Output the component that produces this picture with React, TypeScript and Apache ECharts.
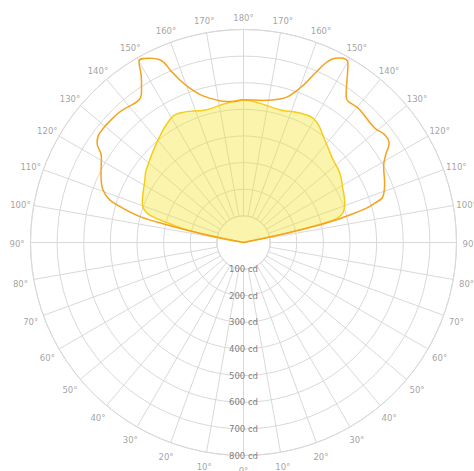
import { useEffect, useRef } from 'react';
import * as echarts from 'echarts';

// Angles in degrees: 0 = straight down, 90 = right horizontal, 180 = up, 270 = left horizontal

// Orange outline plane: angle (deg) and luminous intensity (cd)
const PLANE_A_ANGLES = [
  90, 103, 105.3, 106.7, 108.3, 112.8, 118.5, 121.7, 124.3, 127.3, 131.1, 138.8, 145, 149.8,
  152.5, 154.3, 156.8, 159.9, 165.7, 172, 180, 184.3, 193.2, 199.2, 202.6, 204.6, 207, 210,
  212.1, 214.3, 225, 232.7, 235.8, 238.8, 244.7, 249.4, 254.1, 257, 270,
];
const PLANE_A_CD = [
  0, 300, 464, 515, 552, 575, 599, 628, 662, 667, 654, 663, 672, 780,
  781, 764, 699, 618, 556, 539, 536, 531, 557, 614, 689, 755, 777, 785,
  721, 680, 677, 679, 665, 624, 592, 564, 472, 300, 0,
];

// Yellow filled plane: angle (deg) and luminous intensity (cd)
const PLANE_B_ANGLES = [
  90, 103.5, 106.5, 111.3, 119.5, 125.8, 132.7, 141.7, 149.9, 156.5, 164.7, 173.4, 180,
  187, 195.6, 206.2, 211, 221.2, 233.2, 237.6, 248.7, 256, 270,
];
const PLANE_B_CD = [
  0, 300, 389, 408, 427, 446, 458, 492, 533, 530, 517, 527, 535,
  527, 518, 542, 538, 496, 456, 439, 408, 274, 0,
];

const INTENSITY_TICKS = [100, 200, 300, 400, 500, 600, 700, 800];
const ANGLE_TICKS = [
  0, 10, 20, 30, 40, 50, 60, 70, 80, 90, 100, 110, 120, 130, 140, 150, 160, 170,
  180, 190, 200, 210, 220, 230, 240, 250, 260, 270, 280, 290, 300, 310, 320, 330, 340, 350,
];

const GRID = '#d9d9d9';
const FONT = "'DejaVu Sans', sans-serif";

const angleText = (v: number) => `${v <= 180 ? v : 360 - v}°`;

export default function App() {
  const ref = useRef<HTMLDivElement>(null);

  useEffect(() => {
    const chart = echarts.init(ref.current!, null, { renderer: 'svg' });
    const R = 213;
    const center = [243.5, 242.5];
    const tMin = INTENSITY_TICKS[0];
    const tMax = INTENSITY_TICKS[INTENSITY_TICKS.length - 1];
    const tStep = INTENSITY_TICKS[1] - INTENSITY_TICKS[0];
    const aStep = ANGLE_TICKS[1] - ANGLE_TICKS[0];
    const r0 = (R * tMin) / tMax;

    const hiddenAngle = (polarIndex: number) => ({
      polarIndex,
      type: 'value',
      min: 0,
      max: 360,
      startAngle: 270,
      clockwise: false,
      show: false,
    });

    chart.setOption({
      animation: false,
      polar: [
        { center, radius: [r0, R] },
        { center, radius: [0, R] },
        { center: [243.5, 244.3], radius: [0, 226.5] },
      ],
      angleAxis: [
        {
          polarIndex: 0,
          type: 'value',
          min: 0,
          max: 360,
          interval: aStep,
          startAngle: 270,
          clockwise: false,
          axisLine: { lineStyle: { color: GRID, width: 1 } },
          axisTick: { show: false },
          axisLabel: { show: false },
          splitLine: { show: true, lineStyle: { color: GRID, width: 1 } },
        },
        hiddenAngle(1),
        hiddenAngle(2),
      ],
      radiusAxis: [
        {
          polarIndex: 0,
          type: 'value',
          min: tMin,
          max: tMax,
          interval: tStep,
          axisLine: { show: false },
          axisTick: { show: false },
          splitLine: { show: true, lineStyle: { color: GRID, width: 1 } },
          axisLabel: {
            margin: 0,
            align: 'center',
            verticalAlign: 'middle',
            padding: [0, 0, 9, 0],
            color: '#808080',
            fontSize: 8.5,
            fontFamily: FONT,
            formatter: '{value} cd',
          },
        },
        { polarIndex: 1, type: 'value', min: 0, max: tMax, show: false },
        { polarIndex: 2, type: 'value', min: 0, max: 1, show: false },
      ],
      series: [
        {
          name: 'C90-C270',
          type: 'line',
          coordinateSystem: 'polar',
          polarIndex: 1,
          smooth: 0.45,
          symbol: 'none',
          data: PLANE_B_ANGLES.map((a, i) => [PLANE_B_CD[i], a]),
          lineStyle: { color: '#f7cd1a', width: 1.5 },
          areaStyle: { color: 'rgba(245, 226, 40, 0.55)' },
          z: 2,
        },
        {
          name: 'C0-C180',
          type: 'line',
          coordinateSystem: 'polar',
          polarIndex: 1,
          smooth: 0.45,
          symbol: 'none',
          data: PLANE_A_ANGLES.map((a, i) => [PLANE_A_CD[i], a]),
          lineStyle: { color: '#f5a21e', width: 1.5 },
          z: 3,
        },
        {
          name: 'angle labels',
          type: 'scatter',
          coordinateSystem: 'polar',
          polarIndex: 2,
          symbol: 'circle',
          symbolSize: 1,
          itemStyle: { color: 'transparent' },
          silent: true,
          data: ANGLE_TICKS.map((a) => [1, a]),
          label: {
            show: true,
            position: 'inside',
            color: '#8a8a8a',
            fontSize: 8.5,
            fontFamily: FONT,
            formatter: (p: any) => angleText(p.value[1]),
          },
          z: 4,
        },
      ],
    });

    return () => chart.dispose();
  }, []);

  return (
    <div
      ref={ref}
      style={{ position: 'absolute', left: 0, top: 0, width: 474, height: 471, background: '#fff' }}
    />
  );
}
